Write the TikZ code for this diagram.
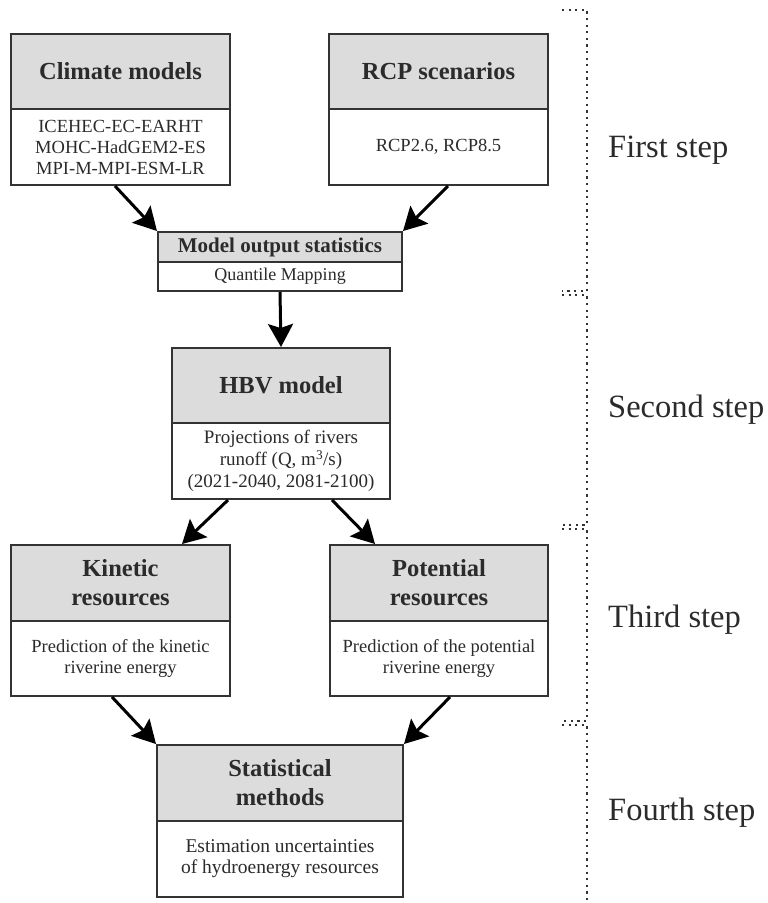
\documentclass[tikz,border=0pt]{standalone}
\usepackage{fontspec}
\setmainfont{Liberation Serif}
\usetikzlibrary{arrows.meta,calc}
\definecolor{hdr}{HTML}{DCDCDC}
\definecolor{edge}{HTML}{333333}
\definecolor{txt}{HTML}{2B2B2B}
\tikzset{
 hbox/.style={draw=edge, line width=2pt, fill=hdr, inner sep=0pt, align=center, text=txt, font=\bfseries\fontsize{24.5}{29}\selectfont},
 bbox/.style={draw=edge, line width=2pt, fill=white, inner sep=0pt, align=center, text=txt, font=\fontsize{18.5}{21}\selectfont},
 arr/.style={line width=3pt, draw=black, -{Stealth[length=23pt,width=25pt,inset=4pt]}},
 stepl/.style={anchor=west, text=txt, font=\fontsize{32.5}{36}\selectfont, inner sep=0pt},
 brk/.style={line width=1.8pt, draw=edge, dash pattern=on 2.2pt off 4.4pt},
}
\begin{document}
\begin{tikzpicture}[x=1pt,y=-1pt]
\useasboundingbox (0,0) rectangle (768,903);
% First step
\node[hbox, minimum width=219pt, minimum height=75pt] (cmh) at (120.5,71.5) {Climate models};
\node[bbox, minimum width=219pt, minimum height=76pt] (cmb) at (120.5,147) {ICEHEC-EC-EARHT\\MOHC-HadGEM2-ES\\MPI-M-MPI-ESM-LR};
\node[hbox, minimum width=219pt, minimum height=75pt] (rch) at (438.5,71.5) {RCP scenarios};
\node[bbox, minimum width=219pt, minimum height=76pt] (rcb) at (438.5,147) {RCP2.6, RCP8.5};
\node[hbox, minimum width=244pt, minimum height=30pt, font=\bfseries\fontsize{21}{24}\selectfont] (mosh) at (280,247) {Model output statistics};
\node[bbox, minimum width=244pt, minimum height=29pt, font=\fontsize{18}{21}\selectfont] (mosb) at (280,276.5) {Quantile Mapping};
% Second step
\node[hbox, minimum width=218pt, minimum height=75pt] (hbh) at (281,385.5) {HBV model};
\node[bbox, minimum width=218pt, minimum height=76pt, font=\fontsize{19}{22}\selectfont] (hbb) at (281,461) {Projections of rivers\\runoff (Q, m\textsuperscript{3}/s)\\(2021-2040, 2081-2100)};
% Third step
\node[hbox, minimum width=219pt, minimum height=76pt] (kih) at (120.5,583) {Kinetic\\resources};
\node[bbox, minimum width=219pt, minimum height=75pt] (kib) at (120.5,658.5) {Prediction of the kinetic\\riverine energy};
\node[hbox, minimum width=218pt, minimum height=76pt] (poh) at (439,583) {Potential\\resources};
\node[bbox, minimum width=218pt, minimum height=75pt] (pob) at (439,658.5) {Prediction of the potential\\riverine energy};
% Fourth step
\node[hbox, minimum width=246pt, minimum height=76pt] (sth) at (280,783) {Statistical\\methods};
\node[bbox, minimum width=246pt, minimum height=76pt, font=\fontsize{19.5}{21}\selectfont] (stb) at (280,859) {Estimation uncertainties\\of hydroenergy resources};
% arrows
\draw[arr] ([xshift=-5.5pt]cmb.south) -- (mosh.north west);
\draw[arr] ([xshift=9.5pt]rcb.south) -- (mosh.north east);
\draw[arr] (mosb.south) -- (hbh.north);
\draw[arr] ([xshift=-53pt]hbb.south) -- ([xshift=61.5pt]kih.north);
\draw[arr] ([xshift=51pt]hbb.south) -- ([xshift=-64pt]poh.north);
\draw[arr] ([xshift=-8.5pt]kib.south) -- (sth.north west);
\draw[arr] ([xshift=11pt]pob.south) -- (sth.north east);
% step brackets
\draw[brk] (562,10) -- (587,10) -- (587,291) -- (562,291);
\draw[brk] (562,295) -- (587,295) -- (587,525) -- (562,525);
\draw[brk] (562,529) -- (587,529) -- (587,721) -- (562,721);
\draw[brk] (562,725) -- (587,725) -- (587,903);
\node[stepl] (s1) at (608,150) {First step};
\node[stepl] (s2) at (608,410) {Second step};
\node[stepl] (s3) at (608,620) {Third step};
\node[stepl] (s4) at (608,813) {Fourth step};
\end{tikzpicture}
\end{document}
